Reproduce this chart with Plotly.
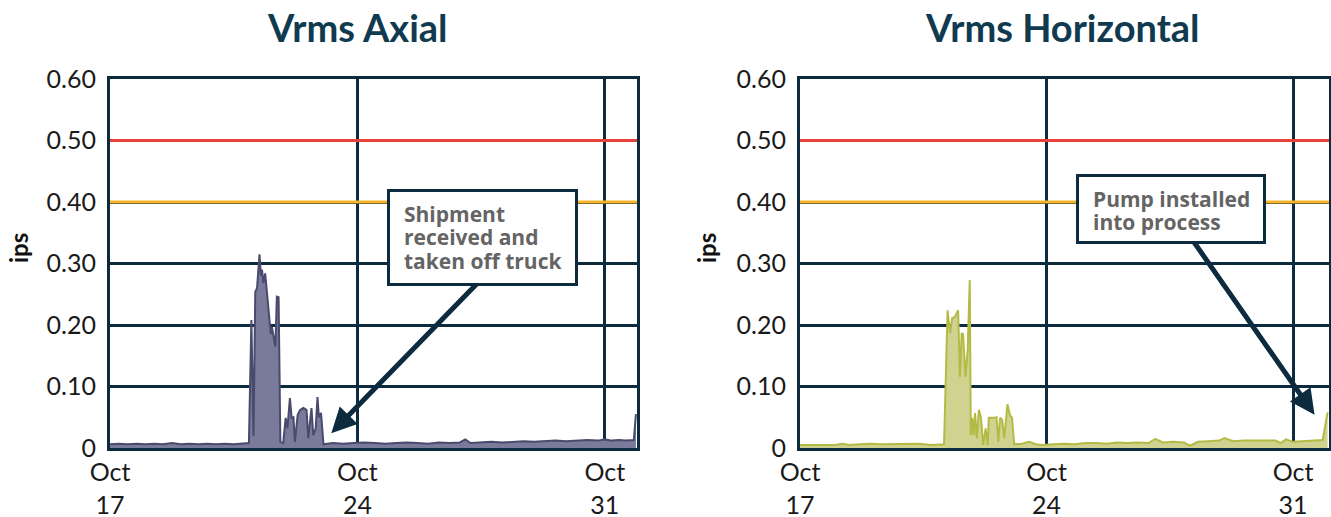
import plotly.graph_objects as go
import pandas as pd

# ---------------- data ----------------
START = pd.Timestamp("2023-10-17 00:00")

axial_days = [0.0, 0.25, 0.5, 0.75, 1.0, 1.25, 1.5, 1.75, 2.0, 2.25, 2.5, 2.75, 3.0, 3.25, 3.5, 3.7, 3.93,
              4.0, 4.06, 4.11, 4.16, 4.23, 4.27, 4.3, 4.34, 4.39, 4.44, 4.51, 4.55, 4.58, 4.63, 4.68, 4.72, 4.77, 4.82,
              4.9, 4.97, 5.02, 5.09, 5.14, 5.19, 5.23, 5.31, 5.38, 5.47, 5.56, 5.61, 5.66, 5.7, 5.75, 5.82, 5.87,
              5.91, 5.97, 6.04,
              6.3, 6.6, 6.9, 7.2, 7.5, 7.8, 8.1, 8.4, 8.7, 9.0, 9.3, 9.6, 9.9, 10.05, 10.2, 10.5, 10.8, 11.1,
              11.4, 11.7, 12.0, 12.3, 12.6, 12.9, 13.2, 13.5, 13.8, 14.0, 14.2, 14.4, 14.6, 14.82, 14.88]
axial_vals = [0.006, 0.007, 0.006, 0.007, 0.006, 0.007, 0.006, 0.008, 0.006, 0.007, 0.006, 0.007, 0.006, 0.007,
              0.006, 0.007, 0.008,
              0.208, 0.02, 0.254, 0.26, 0.315, 0.28, 0.29, 0.268, 0.284, 0.252, 0.197, 0.185, 0.197, 0.178, 0.165,
              0.246, 0.245, 0.01,
              0.008, 0.049, 0.032, 0.081, 0.049, 0.05, 0.01, 0.054, 0.062, 0.065, 0.062, 0.016, 0.049, 0.065, 0.021,
              0.032, 0.083, 0.05, 0.057, 0.006,
              0.008, 0.007, 0.008, 0.009, 0.008, 0.007, 0.008, 0.009, 0.008, 0.007, 0.009, 0.008, 0.009, 0.014,
              0.008, 0.009, 0.010, 0.009, 0.010, 0.011, 0.010, 0.011, 0.012, 0.011, 0.012, 0.013, 0.012, 0.014,
              0.012, 0.013, 0.012, 0.013, 0.055]

horiz_days = [0.0, 0.5, 1.0, 1.2, 1.4, 1.7, 2.0, 2.3, 2.6, 2.9, 3.1, 3.4, 3.7, 4.09,
              4.19, 4.26, 4.32, 4.4, 4.49, 4.54, 4.59, 4.63, 4.7, 4.76, 4.82, 4.85, 4.89, 4.93, 4.97, 5.02, 5.08,
              5.14, 5.2, 5.27, 5.33, 5.36, 5.49, 5.58, 5.63, 5.68, 5.74, 5.8, 5.89, 5.96, 6.02, 6.08,
              6.3, 6.5, 6.7, 6.9, 7.2, 7.5, 7.8, 8.1, 8.4, 8.7, 9.0, 9.3, 9.6, 9.9, 10.09, 10.3, 10.6, 10.9, 11.07,
              11.3, 11.6, 11.9, 12.05, 12.3, 12.6, 12.9, 13.2, 13.5, 13.65, 13.8, 14.0, 14.3, 14.6, 14.84, 14.98]
horiz_vals = [0.005, 0.005, 0.005, 0.007, 0.005, 0.006, 0.007, 0.006, 0.006, 0.007, 0.006, 0.007, 0.005, 0.006,
              0.224, 0.187, 0.211, 0.213, 0.224, 0.116, 0.187, 0.185, 0.116, 0.159, 0.273, 0.021, 0.049, 0.021,
              0.057, 0.016, 0.062, 0.049, 0.005, 0.032, 0.005, 0.049, 0.049, 0.05, 0.01, 0.049, 0.046, 0.016,
              0.071, 0.054, 0.049, 0.006,
              0.007, 0.010, 0.006, 0.005, 0.006, 0.007, 0.006, 0.008, 0.008, 0.007, 0.009, 0.008, 0.009, 0.008,
              0.015, 0.009, 0.010, 0.009, 0.004, 0.010, 0.011, 0.012, 0.016, 0.011, 0.012, 0.012, 0.013, 0.012,
              0.008, 0.014, 0.010, 0.011, 0.012, 0.013, 0.058]

y_ticks = [0, 0.1, 0.2, 0.3, 0.4, 0.5, 0.6]
y_ticktext = ["0", "0.10", "0.20", "0.30", "0.40", "0.50", "0.60"]
x_ticks = ["2023-10-17", "2023-10-24", "2023-10-31"]
x_ticktext = ["Oct<br>17", "Oct<br>24", "Oct<br>31"]
ALARM = 0.5
ALERT = 0.4

axial_note = ["Shipment", "received and", "taken off truck"]
horiz_note = ["Pump installed", "into process"]


def to_time(days):
    return [START + pd.Timedelta(days=d) for d in days]


def day_t(d):
    return START + pd.Timedelta(days=d)


axial_t = to_time(axial_days)
horiz_t = to_time(horiz_days)

NAVY = "#0d2b3e"
FONT = "Lato"
BOXFONT = "Open Sans"

fig = go.Figure()
fig.add_trace(go.Scatter(x=axial_t, y=axial_vals, mode="lines", fill="tozeroy",
                         line=dict(color="#4a4a6e", width=2), fillcolor="#7a7a9a",
                         xaxis="x", yaxis="y", showlegend=False))
fig.add_trace(go.Scatter(x=horiz_t, y=horiz_vals, mode="lines", fill="tozeroy",
                         line=dict(color="#b3bb45", width=2), fillcolor="#d0d290",
                         xaxis="x2", yaxis="y2", showlegend=False))

ybot = 69 / 517
ytop = 438 / 517

common_x = dict(type="date", tickvals=x_ticks, ticktext=x_ticktext, showgrid=True, gridcolor=NAVY,
                gridwidth=2.5, showline=True, mirror=True, linecolor=NAVY, linewidth=3, ticks="",
                tickfont=dict(family=FONT, size=25, color="#1a1a1a"), zeroline=False, automargin=False)
common_y = dict(tickvals=y_ticks, ticktext=y_ticktext, range=[0, 0.6], showgrid=True, gridcolor=NAVY,
                gridwidth=2.5, showline=True, mirror=True, linecolor=NAVY, linewidth=3, ticks="",
                tickfont=dict(family=FONT, size=25, color="#1a1a1a"), zeroline=False, ticklabelstandoff=6,
                automargin=False)

fig.update_layout(
    width=1331, height=517, autosize=False,
    margin=dict(l=0, r=0, t=0, b=0, pad=0, autoexpand=False),
    paper_bgcolor="white", plot_bgcolor="white",
    xaxis=dict(common_x, domain=[110 / 1331, 637 / 1331],
               range=[START, START + pd.Timedelta(days=14.91)]),
    yaxis=dict(common_y, domain=[ybot, ytop], anchor="x"),
    xaxis2=dict(common_x, domain=[800 / 1331, 1329 / 1331], anchor="y2",
                range=[START, START + pd.Timedelta(days=15.02)]),
    yaxis2=dict(common_y, domain=[ybot, ytop], anchor="x2"),
)

# threshold lines
for xr, yr in [("x", "y"), ("x2", "y2")]:
    fig.add_shape(type="line", xref=f"{xr} domain", yref=yr, x0=0, x1=1, y0=ALARM, y1=ALARM,
                  line=dict(color="#e8403a", width=3))
    fig.add_shape(type="line", xref=f"{xr} domain", yref=yr, x0=0, x1=1, y0=ALERT, y1=ALERT,
                  line=dict(color="#f6b324", width=3))

# titles
for txt, xc in [("Vrms Axial", 357), ("Vrms Horizontal", 1062)]:
    fig.add_annotation(text=f"<b>{txt}</b>", xref="paper", yref="paper", x=xc / 1331, y=(517 - 27) / 517,
                       xanchor="center", yanchor="middle", showarrow=False,
                       font=dict(family=FONT, size=38, color="#0f3a4f"))
for xc in [18, 706]:
    fig.add_annotation(text="<b>ips</b>", xref="paper", yref="paper", x=xc / 1331, y=(517 - 248) / 517,
                       xanchor="center", yanchor="middle", textangle=-90, showarrow=False,
                       font=dict(family=FONT, size=24, color="#111111"))

# arrows (drawn first so boxes sit on top of their tails)
fig.add_annotation(text="", xref="x", yref="y", axref="x", ayref="y",
                   x=day_t(6.26), y=0.024, ax=day_t(10.6), ay=0.28,
                   showarrow=True, arrowhead=2, arrowsize=1, arrowwidth=5, arrowcolor=NAVY)
fig.add_annotation(text="", xref="x2", yref="y2", axref="x2", ayref="y2",
                   x=day_t(14.61), y=0.054, ax=day_t(11.0), ay=0.35,
                   showarrow=True, arrowhead=2, arrowsize=1, arrowwidth=5, arrowcolor=NAVY)


def callout(xr, yr, x, y, w, h, lines):
    fig.add_annotation(text=" ", xref=xr, yref=yr, x=x, y=y, xanchor="left", yanchor="top",
                       showarrow=False, width=w, height=h, borderpad=0, borderwidth=3,
                       bordercolor=NAVY, bgcolor="white", font=dict(size=10))
    for i, ln in enumerate(lines):
        fig.add_annotation(text=f"<b>{ln}</b>", xref=xr, yref=yr, x=x, y=y, xanchor="left", yanchor="top",
                           xshift=15, yshift=-(9 + i * 23.3), showarrow=False, align="left",
                           font=dict(family=BOXFONT, size=21, color="#646464"))


callout("x", "y", day_t(7.85), 0.421, 185, 91, axial_note)
callout("x2", "y2", day_t(7.83), 0.4455, 184, 64, horiz_note)

fig.write_html("out.html", config={"displayModeBar": False},
               post_script="document.body.style.margin='0px';document.body.style.overflow='hidden';")
